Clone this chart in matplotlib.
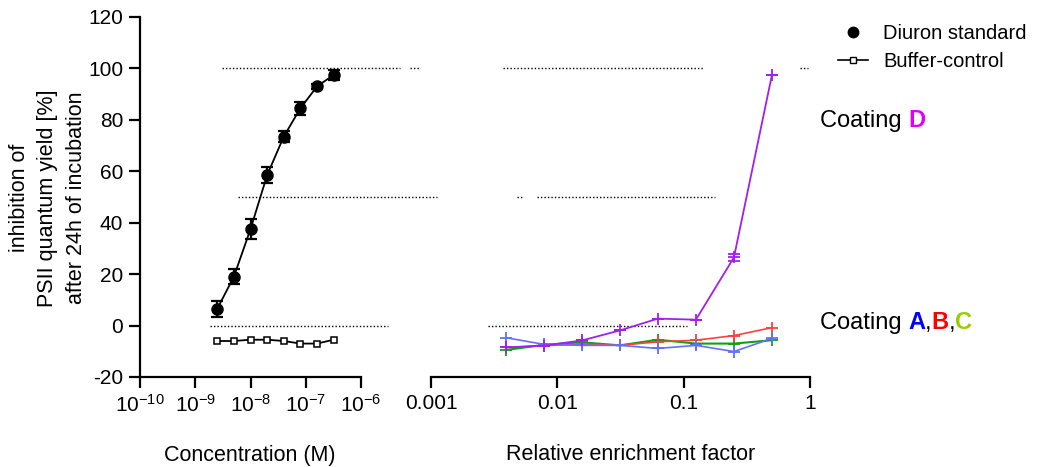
import matplotlib
matplotlib.use("Agg")
import matplotlib.pyplot as plt
import matplotlib.transforms as mtransforms
from matplotlib.lines import Line2D
from matplotlib.text import Annotation

plt.rcParams['font.family'] = ['Liberation Sans', 'DejaVu Sans']
plt.rcParams['mathtext.fontset'] = 'custom'
plt.rcParams['mathtext.rm'] = 'Liberation Sans'
plt.rcParams['mathtext.it'] = 'Liberation Sans'
plt.rcParams['axes.unicode_minus'] = False

# ---------------- data ----------------
conc = [2.5e-9, 5e-9, 1e-8, 2e-8, 4e-8, 8e-8, 1.6e-7, 3.2e-7]
diuron = [6.5, 19, 37.5, 58.5, 73.5, 84.5, 93, 97.5]
diuron_err = [3, 3, 4, 3, 2, 2.5, 1, 2]
buffer_ctrl = [-6, -6, -5.5, -5.5, -6, -7, -7, -5.5]

enrich = [0.00390625, 0.0078125, 0.015625, 0.03125, 0.0625, 0.125, 0.25, 0.5]
coat_A = [-4.7, -7.3, -7.7, -7.7, -8.9, -7.7, -10.1, -5.0]
coat_B = [-8.5, -7.8, -7.2, -7.7, -6.3, -5.7, -3.9, -0.8]
coat_C = [-9.5, -7.5, -6.5, -7.7, -5.5, -7.0, -7.0, -5.7]
coat_D = [-8.5, -7.8, -5.8, -1.9, 2.7, 2.3, 26.5, 97.5]
coat_D_err = [0, 0, 0, 0, 0, 0, 1.5, 0]

left_ticks = [1e-10, 1e-9, 1e-8, 1e-7, 1e-6]
left_ticklabels = ['$10^{-10}$', '$10^{-9}$', '$10^{-8}$', '$10^{-7}$', '$10^{-6}$']
right_ticks = [0.001, 0.01, 0.1, 1]
right_ticklabels = ['0.001', '0.01', '0.1', '1']
y_ticks = [-20, 0, 20, 40, 60, 80, 100, 120]

# reference lines: y value, spans in left-axes fraction, spans in right-axes fraction
ref_levels = [100, 50, 0]
ref_left_spans = [[(0.371, 1.176), (1.222, 1.267)],
                  [(0.443, 1.344)],
                  [(0.317, 1.122)]]
ref_right_spans = [[(0.190, 0.718), (0.974, 0.995)],
                   [(0.227, 0.240), (0.280, 0.749)],
                   [(0.150, 0.675)]]

# ---------------- figure ----------------
W, H = 1038, 467
fig = plt.figure(figsize=(W / 100, H / 100), dpi=100)

def fx(px):
    return px / W

def fy(py):
    return 1 - py / H

ax1 = fig.add_axes([fx(140), fy(377), fx(361) - fx(140), fy(17) - fy(377)])
ax2 = fig.add_axes([fx(431), fy(377), fx(810) - fx(431), fy(17) - fy(377)])

tick_fs = 15
for ax in (ax1, ax2):
    ax.set_xscale('log')
    ax.set_ylim(-20, 120)
    ax.spines['top'].set_visible(False)
    ax.spines['right'].set_visible(False)
    ax.spines['bottom'].set_linewidth(1.6)
    ax.spines['left'].set_linewidth(1.6)
    ax.tick_params(axis='both', which='major', direction='out', length=8,
                   width=1.6, labelsize=tick_fs, pad=4)
    ax.tick_params(axis='x', which='minor', bottom=False)
    ax.set_facecolor('none')

ax1.set_xlim(1e-10, 1e-6)
ax1.set_xticks(left_ticks)
ax1.set_xticklabels(left_ticklabels)
ax1.set_yticks(y_ticks)

ax2.set_xlim(0.001, 1)
ax2.set_xticks(right_ticks)
ax2.set_xticklabels(right_ticklabels)
ax2.spines['left'].set_visible(False)
ax2.tick_params(axis='y', left=False, labelleft=False)

# Diuron + buffer
ax1.errorbar(conc, diuron, yerr=diuron_err, fmt='-o', color='black', ms=8,
             lw=1.3, capsize=4, elinewidth=1.6, capthick=1.6, clip_on=False,
             zorder=3)
ax1.plot(conc, buffer_ctrl, '-s', color='black', mfc='white', mec='black',
         ms=5, mew=1.1, lw=1.3, clip_on=False, zorder=3)

# coatings
ax2.plot(enrich, coat_C, '-+', color='#10a010', lw=1.5, ms=9, mew=1.3, clip_on=False)
ax2.plot(enrich, coat_B, '-+', color='#ff4040', lw=1.2, ms=9, mew=1.3, clip_on=False)
ax2.plot(enrich, coat_A, '-+', color='#6070ff', lw=1.2, ms=9, mew=1.3, clip_on=False)
ax2.errorbar(enrich, coat_D, yerr=coat_D_err, fmt='-+', color='#a020f0', lw=1.3,
             ms=9, mew=1.3, capsize=4, clip_on=False)

# dotted reference lines
for lvl, lsp, rsp in zip(ref_levels, ref_left_spans, ref_right_spans):
    tr1 = mtransforms.blended_transform_factory(ax1.transAxes, ax1.transData)
    for x0, x1 in lsp:
        ax1.add_line(Line2D([x0, x1], [lvl, lvl], transform=tr1, color='black',
                            ls=(0, (1, 1.5)), lw=1.0, clip_on=False, zorder=2))
    tr2 = mtransforms.blended_transform_factory(ax2.transAxes, ax2.transData)
    for x0, x1 in rsp:
        ax2.add_line(Line2D([x0, x1], [lvl, lvl], transform=tr2, color='black',
                            ls=(0, (1, 1.5)), lw=1.0, clip_on=False, zorder=2))

# axis labels
fig.text(fx(250), fy(455), 'Concentration (M)', ha='center', va='center', fontsize=15.5)
fig.text(fx(631), fy(455), 'Relative enrichment factor', ha='center', va='center', fontsize=15.5)
fig.text(fx(48), fy(198), 'inhibition of\nPSII quantum yield [%]\nafter 24h of incubation',
         ha='center', va='center', rotation=90, fontsize=15.5, linespacing=1.45)

# legend
handles = [Line2D([], [], color='black', marker='o', ls='none', ms=7.5),
           Line2D([], [], color='black', marker='s', mfc='white', ms=5, lw=1.2)]
fig.legend(handles, ['Diuron standard', 'Buffer-control'], loc='upper left',
           bbox_to_anchor=(fx(838), fy(24)), frameon=False, fontsize=14.5,
           handlelength=1.5, handletextpad=0.75, labelspacing=0.45,
           borderaxespad=0, borderpad=0)

# coating annotations
fs_coat = 17
t = fig.text(fx(820), fy(121), 'Coating ', fontsize=fs_coat, ha='left', va='center')
fig.add_artist(Annotation('D', xy=(1, 0), xycoords=t, va='bottom', ha='left',
                          fontsize=fs_coat, fontweight='bold', color='#dd00ff'))

t2 = fig.text(fx(820), fy(323), 'Coating ', fontsize=fs_coat, ha='left', va='center')
prev = t2
for s, c, w in [('A', '#0000ff', 'bold'), (',', 'black', 'normal'),
                ('B', '#ff0000', 'bold'), (',', 'black', 'normal'),
                ('C', '#99cc00', 'bold')]:
    prev = fig.add_artist(Annotation(s, xy=(1, 0), xycoords=prev, va='bottom',
                                     ha='left', fontsize=fs_coat, fontweight=w,
                                     color=c))

fig.savefig('out.png', dpi=100)
